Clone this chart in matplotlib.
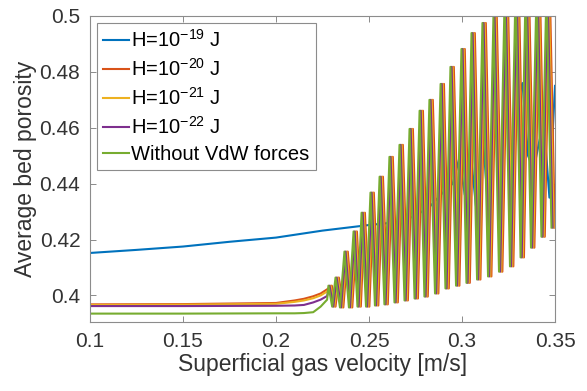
import numpy as np
import matplotlib.pyplot as plt
from matplotlib.ticker import FormatStrFormatter

plt.rcParams['font.family'] = ['Liberation Sans', 'DejaVu Sans']
plt.rcParams['mathtext.fontset'] = 'custom'
plt.rcParams['mathtext.rm'] = 'Liberation Sans'
plt.rcParams['mathtext.it'] = 'Liberation Sans:italic'

labels = [r'H=10$^{-19}$ J', r'H=10$^{-20}$ J', r'H=10$^{-21}$ J',
          r'H=10$^{-22}$ J', 'Without VdW forces']
colors = ['#0072BD', '#D95319', '#EDB120', '#7E2F8E', '#77AC30']

# H=1e-19: smooth rise, then weak oscillation at high velocity
blue_x = [0.1, 0.125, 0.15, 0.175, 0.2, 0.225, 0.25, 0.265, 0.275, 0.283,
          0.29, 0.295, 0.2985, 0.3015, 0.3045, 0.3075, 0.311, 0.3145, 0.318,
          0.321, 0.324, 0.327, 0.330, 0.3325, 0.3355, 0.3385, 0.3415, 0.344,
          0.347, 0.350]
blue_y = [0.4152, 0.4163, 0.4175, 0.4192, 0.4207, 0.4232, 0.4252, 0.4262,
          0.4285, 0.4320, 0.4370, 0.4400, 0.4490, 0.4360, 0.4520, 0.4320,
          0.4580, 0.4280, 0.4650, 0.4300, 0.4720, 0.4400, 0.4700, 0.4760,
          0.4500, 0.4450, 0.4550, 0.4620, 0.4350, 0.4750]

# flat part before fluidisation (fixed bed)
pre_x = [0.1, 0.15, 0.2, 0.21, 0.215, 0.22, 0.224, 0.2275]
red_pre_y = [0.3968, 0.3969, 0.3973, 0.3982, 0.3988, 0.3997, 0.4007, 0.4022]
yellow_pre_y = [0.3966, 0.3967, 0.3970, 0.3977, 0.3982, 0.3990, 0.4000, 0.4014]
purple_pre_y = [0.3962, 0.3962, 0.3963, 0.3964, 0.3966, 0.3975, 0.3985, 0.3998]
green_pre_y = [0.3935, 0.3935, 0.3936, 0.3936, 0.3937, 0.3940, 0.3960, 0.3985]

# bubbling regime: peaks and troughs of the porosity oscillation
peak_x = [0.2290, 0.2328, 0.2376, 0.2425, 0.2468, 0.2516, 0.2565, 0.2618,
          0.2672, 0.2726, 0.2780, 0.2833, 0.2893, 0.2946, 0.3005, 0.3059,
          0.3118, 0.3177, 0.3237, 0.3296, 0.3350, 0.3409, 0.3462]
peak_y = [0.4035, 0.4064, 0.4157, 0.4229, 0.4296, 0.4368, 0.4425, 0.4496,
          0.4539, 0.4596, 0.4661, 0.4700, 0.4757, 0.4818, 0.4882, 0.4939,
          0.4975, 0.4996, 0.5060, 0.5100, 0.5100, 0.5100, 0.5100]
trough_x = [0.2310, 0.2352, 0.2400, 0.2446, 0.2492, 0.2540, 0.2591, 0.2645,
            0.2699, 0.2753, 0.2806, 0.2863, 0.2919, 0.2976, 0.3032, 0.3089,
            0.3148, 0.3207, 0.3266, 0.3323, 0.3379, 0.3435, 0.3489]
trough_y = [0.3960, 0.3957, 0.3957, 0.3960, 0.3960, 0.3964, 0.3968, 0.3975,
            0.3982, 0.3989, 0.3996, 0.4007, 0.4025, 0.4035, 0.4045, 0.4057,
            0.4068, 0.4085, 0.4104, 0.4136, 0.4171, 0.4210, 0.4243]
# small phase lag between the cases
lag = {'red': 0.0010, 'yellow': 0.0004, 'purple': -0.0002, 'green': -0.0008}

osc_x = np.ravel(np.column_stack([peak_x, trough_x]))
osc_y = np.ravel(np.column_stack([peak_y, trough_y]))

fig = plt.figure(figsize=(5.87, 3.91), dpi=100)
ax = fig.add_axes([0.1533, 0.1765, 0.7922, 0.7826])

lw = 1.5
ax.plot(blue_x, blue_y, color=colors[0], lw=lw, label=labels[0])
for name, pre_y, c, lab in [('red', red_pre_y, colors[1], labels[1]),
                            ('yellow', yellow_pre_y, colors[2], labels[2]),
                            ('purple', purple_pre_y, colors[3], labels[3]),
                            ('green', green_pre_y, colors[4], labels[4])]:
    x = np.concatenate([pre_x, osc_x + lag[name]])
    y = np.concatenate([pre_y, osc_y])
    ax.plot(x, y, color=c, lw=lw, label=lab)

ax.set_xlim(0.1, 0.35)
ax.set_ylim(0.3905, 0.5)
ax.set_xticks([0.1, 0.15, 0.2, 0.25, 0.3, 0.35])
ax.set_yticks([0.4, 0.42, 0.44, 0.46, 0.48, 0.5])
ax.xaxis.set_major_formatter(FormatStrFormatter('%g'))
ax.yaxis.set_major_formatter(FormatStrFormatter('%g'))
ax.tick_params(direction='in', top=True, right=True, labelsize=15,
               labelcolor='#333333', color='#777777', length=4, width=0.6,
               pad=7)
for s in ax.spines.values():
    s.set_color('#8c8c8c')
    s.set_linewidth(0.8)

ax.set_xlabel('Superficial gas velocity [m/s]', fontsize=16.5,
              color='#333333', labelpad=2)
ax.set_ylabel('Average bed porosity', fontsize=16.5, color='#333333',
              labelpad=2)

leg = ax.legend(loc='upper left', fontsize=14.5, handlelength=1.3,
                handletextpad=0.1, labelspacing=0.35, borderaxespad=0.35,
                borderpad=0.3, fancybox=False, framealpha=1)
leg.get_frame().set_edgecolor('#8c8c8c')
leg.get_frame().set_linewidth(0.8)

fig.savefig('out.png', dpi=100)
